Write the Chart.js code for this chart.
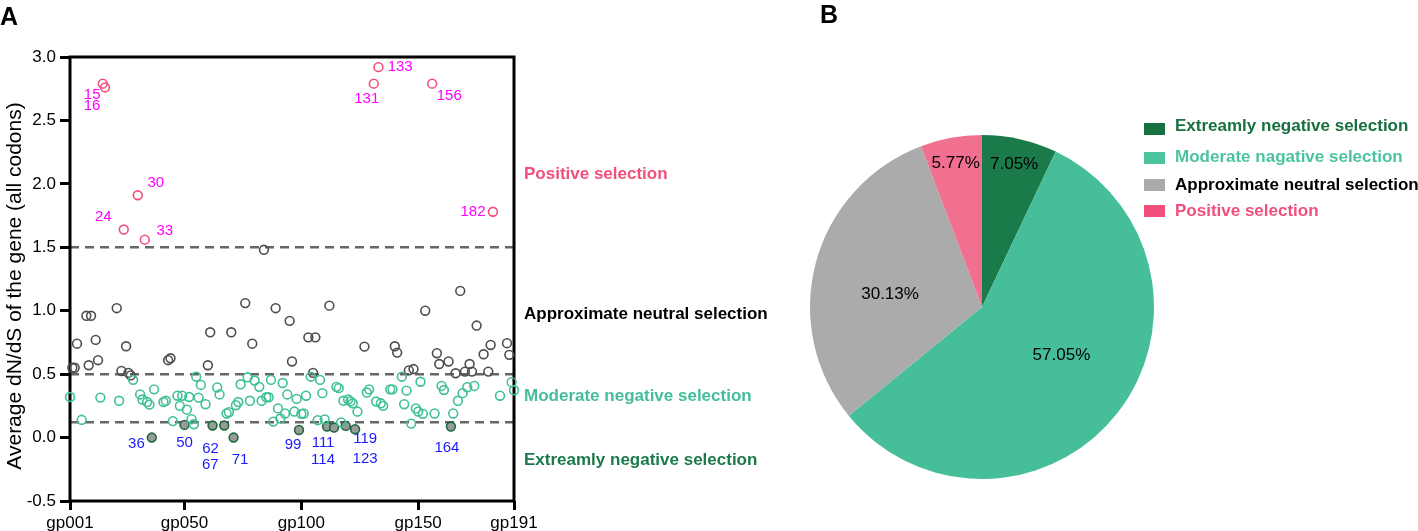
<!DOCTYPE html>
<html><head><meta charset="utf-8">
<script src="https://cdn.jsdelivr.net/npm/chart.js@4"></script>
<style>
html,body{margin:0;padding:0;background:#fff;}
body{width:1418px;height:531px;position:relative;overflow:hidden;font-family:"Liberation Sans",Arial,sans-serif;}
#c1{position:absolute;left:0;top:0;}
#c2{position:absolute;left:800px;top:0;}
.t{position:absolute;white-space:nowrap;line-height:1;}
.b{font-weight:bold;font-size:17px;}
.sq{position:absolute;width:21px;height:12px;}
#ytitle{position:absolute;left:12.5px;top:286px;font-size:21px;white-space:nowrap;line-height:1;transform:translate(-50%,-50%) rotate(-90deg);}
</style></head><body>
<canvas id="c1" width="800" height="531"></canvas>
<canvas id="c2" width="618" height="531"></canvas>
<div class="t" style="left:0;top:3.7px;font-size:25px;font-weight:bold;">A</div>
<div class="t" style="left:820px;top:1.7px;font-size:25px;font-weight:bold;">B</div>
<div id="ytitle">Average dN/dS of the gene (all codons)</div>
<div id="regions"></div>
<div id="legend"></div>
<script>
// ---------------- data ----------------
const xTickValues = [1, 50, 100, 150, 191];
const xTickLabels = ['gp001', 'gp050', 'gp100', 'gp150', 'gp191'];
const yTickStep = 0.5;
const thresholds = [1.5, 0.5, 0.12];

const posIdx = [15, 16, 24, 30, 33, 131, 133, 156, 182];
const posVal = [2.79, 2.76, 1.64, 1.91, 1.56, 2.79, 2.92, 2.79, 1.78];

const extIdx = [36, 50, 62, 67, 71, 99, 111, 114, 119, 123, 164];
const extVal = [0.00, 0.10, 0.095, 0.095, 0.00, 0.06, 0.087, 0.079, 0.092, 0.066, 0.087];

const neuIdx = [2,3,4,8,9,10,12,13,21,23, 25,26,27,43,44,60,61,70,76,79, 84,89,95,96,103,105,106,112,127,140, 141,146,148,153,158,159,163,166,168,170, 172,173,175,178,180,181,188,189];
const neuVal = [0.55,0.55,0.74,0.96,0.57,0.96,0.77,0.61,1.02,0.525, 0.72,0.51,0.49,0.61,0.625,0.57,0.83,0.83,1.06,0.74, 1.48,1.02,0.92,0.60,0.79,0.51,0.79,1.04,0.717,0.72, 0.67,0.53,0.54,1.0,0.665,0.58,0.60,0.507,1.156,0.52, 0.58,0.52,0.883,0.657,0.52,0.73,0.744,0.652];

const modIdx = [1,6,14,22,28,31,32,34,35,37, 41,42,45,47,48,49,51,52,53,54, 55,56,57,59,64,65,68,69,72,73, 74,77,78,80,82,83,85,86,87,88, 90,91,92,93,94,97,98,100,101,102, 104,107,108,109,110,115,116,117,118,120, 121,122,124,128,129,132,134,135,138,139, 143,144,145,147,149,150,151,152,157,160, 161,165,167,169,171,174,185,190,191];
const modVal = [0.32,0.14,0.315,0.29,0.455,0.34,0.30,0.28,0.26,0.38, 0.28,0.29,0.13,0.33,0.25,0.33,0.22,0.32,0.145,0.105, 0.48,0.315,0.415,0.263,0.395,0.34,0.19,0.20,0.255,0.28, 0.42,0.475,0.29,0.45,0.40,0.29,0.318,0.318,0.455,0.126, 0.23,0.15,0.43,0.19,0.34,0.205,0.305,0.187,0.19,0.33, 0.48,0.137,0.455,0.35,0.143,0.40,0.39,0.12,0.29,0.30, 0.285,0.27,0.205,0.355,0.38,0.284,0.27,0.25,0.38,0.38, 0.48,0.263,0.37,0.11,0.23,0.205,0.44,0.187,0.19,0.407, 0.375,0.19,0.29,0.35,0.397,0.407,0.33,0.437,0.373];

const regionLabels = ['Positive selection', 'Approximate neutral selection', 'Moderate negative selection', 'Extreamly negative selection'];

const pieLabels = ['Extreamly negative selection', 'Moderate nagative selection', 'Approximate neutral selection', 'Positive selection'];
const pieCounts = [11, 89, 47, 9];

// ---------------- styles ----------------
const FONT = '"Liberation Sans", Arial, sans-serif';
Chart.defaults.font.family = FONT;
Chart.defaults.color = '#000';

const C = {
  extFill: '#9a9a9a', extBorder: '#1b6b3b',
  mod: '#40c096', neu: '#4d4d4d', pos: '#f0507a',
  posLabel: '#ff00ff', extLabel: '#1a1aff'
};
const pieColors = ['#1b7a4a', '#46be9a', '#ababab', '#f16f8f'];
const legendSquareColors = ['#17703f', '#4cc4a0', '#aaaaaa', '#f0507a'];
const legendTextColors = ['#17703f', '#4cc3a0', '#000000', '#f0507a'];
const regionColors = ['#f0507a', '#000000', '#45bd9a', '#1b7a4a'];
const regionTops = [165, 304.5, 387, 450.5];
const legendTextTops = [117, 148, 175.5, 202];
const legendSquareTops = [123, 152, 179, 205];

const posLabelOffset = {15:[-10.5,11],16:[-13,18],24:[-20.5,-13],30:[18,-12.5],33:[20,-9],131:[-7,15],133:[21.7,-0.6],156:[17,12],182:[-20,0]};
const extLabelOffset = {36:[-15.4,6.5],50:[0,17.5],62:[-2,23],67:[-14,39],71:[6.5,22.6],99:[-6,15],111:[-4,16],114:[-11,32],119:[19.5,13],123:[10,30],164:[-4,21.6]};

// ---------------- HTML texts ----------------
const reg = document.getElementById('regions');
regionLabels.forEach((t, i) => {
  const d = document.createElement('div');
  d.className = 't b';
  d.style.left = '524px'; d.style.top = regionTops[i] + 'px'; d.style.color = regionColors[i];
  d.textContent = t; reg.appendChild(d);
});
const leg = document.getElementById('legend');
pieLabels.forEach((t, i) => {
  const s = document.createElement('div');
  s.className = 'sq'; s.style.left = '1144px'; s.style.top = legendSquareTops[i] + 'px'; s.style.background = legendSquareColors[i];
  leg.appendChild(s);
  const d = document.createElement('div');
  d.className = 't b'; d.style.left = '1175px'; d.style.top = legendTextTops[i] + 'px'; d.style.color = legendTextColors[i];
  d.textContent = t; leg.appendChild(d);
});

// ---------------- plugins ----------------
const framePlugin = {
  id: 'frame',
  beforeDatasetsDraw(chart) {
    const {ctx, chartArea: a, scales} = chart;
    ctx.save();
    ctx.strokeStyle = '#666'; ctx.lineWidth = 2.5; ctx.setLineDash([9, 6]);
    thresholds.forEach(v => {
      const y = scales.y.getPixelForValue(v);
      ctx.beginPath(); ctx.moveTo(a.left, y); ctx.lineTo(a.right, y); ctx.stroke();
    });
    ctx.setLineDash([]);
    ctx.strokeStyle = '#000'; ctx.lineWidth = 3;
    ctx.strokeRect(a.left, a.top, a.right - a.left, a.bottom - a.top);
    ctx.restore();
  }
};
const labelPlugin = {
  id: 'ptlabels',
  afterDatasetsDraw(chart) {
    const {ctx, scales} = chart;
    ctx.save();
    ctx.font = '15px ' + FONT; ctx.textAlign = 'center'; ctx.textBaseline = 'middle';
    const draw = (idx, val, off, color) => {
      ctx.fillStyle = color;
      idx.forEach((g, i) => {
        const o = off[g] || [0, 0];
        ctx.fillText(String(g), scales.x.getPixelForValue(g) + o[0], scales.y.getPixelForValue(val[i]) + o[1]);
      });
    };
    draw(posIdx, posVal, posLabelOffset, C.posLabel);
    draw(extIdx, extVal, extLabelOffset, C.extLabel);
    ctx.restore();
  }
};
const pts = (idx, val) => idx.map((x, i) => ({x, y: val[i]}));
const ds = (label, data, border, fill) => ({
  label, data, clip: false,
  pointRadius: 4.4, pointHoverRadius: 4.4, pointBorderWidth: 1.6,
  pointBorderColor: border, pointBackgroundColor: fill
});

new Chart(document.getElementById('c1'), {
  type: 'scatter',
  data: { datasets: [
    ds('Moderate negative selection', pts(modIdx, modVal), C.mod, 'rgba(0,0,0,0)'),
    ds('Approximate neutral selection', pts(neuIdx, neuVal), C.neu, 'rgba(0,0,0,0)'),
    ds('Positive selection', pts(posIdx, posVal), C.pos, 'rgba(0,0,0,0)'),
    ds('Extreamly negative selection', pts(extIdx, extVal), C.extBorder, C.extFill)
  ]},
  options: {
    responsive: false, animation: false, devicePixelRatio: 1,
    layout: {padding: {left: 0, right: 286, top: 57, bottom: 0}},
    plugins: {legend: {display: false}, tooltip: {enabled: false}},
    scales: {
      x: {
        type: 'linear', min: 1, max: 191,
        afterBuildTicks: s => { s.ticks = xTickValues.map(v => ({value: v})); },
        afterFit: s => { s.height = 30; },
        ticks: {callback: v => xTickLabels[xTickValues.indexOf(v)], color: '#000', font: {size: 17}, padding: 3, maxRotation: 0, autoSkip: false},
        grid: {drawOnChartArea: false, tickLength: 9, color: '#000', lineWidth: 3},
        border: {display: false}
      },
      y: {
        min: -0.5, max: 3,
        afterFit: s => { s.width = 70; },
        ticks: {stepSize: yTickStep, callback: v => Number(v).toFixed(1), color: '#000', font: {size: 17}, padding: 4},
        grid: {drawOnChartArea: false, tickLength: 10, color: '#000', lineWidth: 3},
        border: {display: false}
      }
    }
  },
  plugins: [framePlugin, labelPlugin]
});

const bigLabelRotate = -0.12;
const pctPlugin = {
  id: 'pct',
  afterDatasetsDraw(chart) {
    const {ctx} = chart;
    const meta = chart.getDatasetMeta(0);
    const total = pieCounts.reduce((a, b) => a + b, 0);
    ctx.save();
    ctx.font = '17px ' + FONT; ctx.fillStyle = '#000'; ctx.textAlign = 'center'; ctx.textBaseline = 'middle';
    meta.data.forEach((arc, i) => {
      const p = arc.getProps(['x', 'y', 'startAngle', 'endAngle', 'outerRadius'], true);
      const frac = pieCounts[i] / total;
      const small = frac < 0.1;
      const mid = (p.startAngle + p.endAngle) / 2 + (small ? 0 : bigLabelRotate);
      const r = p.outerRadius * (small ? 0.85 : 0.54);
      ctx.fillText((frac * 100).toFixed(2) + '%', p.x + Math.cos(mid) * r, p.y + Math.sin(mid) * r);
    });
    ctx.restore();
  }
};
new Chart(document.getElementById('c2'), {
  type: 'pie',
  data: {labels: pieLabels, datasets: [{data: pieCounts, backgroundColor: pieColors, borderWidth: 0}]},
  options: {
    responsive: false, animation: false, devicePixelRatio: 1,
    layout: {padding: {left: 10, right: 264, top: 135, bottom: 52}},
    plugins: {legend: {display: false}, tooltip: {enabled: false}}
  },
  plugins: [pctPlugin]
});
</script>
</body></html>
